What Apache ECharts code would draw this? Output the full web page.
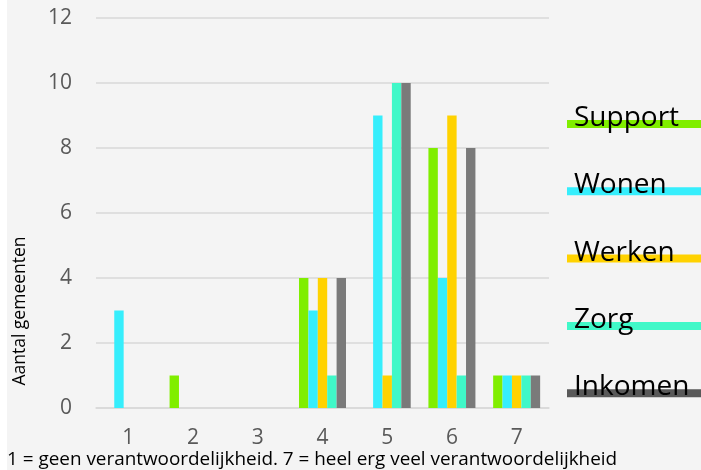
<!DOCTYPE html>
<html>
<head>
<meta charset="utf-8">
<script src="https://cdn.jsdelivr.net/npm/echarts@6/dist/echarts.min.js"></script>
<style>
html,body{margin:0;padding:0;background:#ffffff;}
#chart{position:absolute;left:7px;top:0;width:694px;height:470px;background:#f4f4f4;}
</style>
</head>
<body>
<div id="chart"></div>
<script>
const categories = ['1','2','3','4','5','6','7'];
const seriesNames = ['Support','Wonen','Werken','Zorg','Inkomen'];
const support = [0,1,0,4,0,8,1];
const wonen   = [3,0,0,3,9,4,1];
const werken  = [0,0,0,4,1,9,1];
const zorg    = [0,0,0,1,10,1,1];
const inkomen = [0,0,0,4,10,8,1];
const barColors = ['#80ee00','#36eefc','#ffd200','#40f8c8','#7a7a7a'];
const legendColors = ['#80ee00','#36eefc','#ffd200','#40f8c8','#595959'];
const yTicks = {min:0, max:12, interval:2};
const xAxisTitle = '1 = geen verantwoordelijkheid. 7 = heel erg veel verantwoordelijkheid';
const yAxisTitle = 'Aantal gemeenten';

const values = [support, wonen, werken, zorg, inkomen];
const font = "'Open Sans', sans-serif";
const chart = echarts.init(document.getElementById('chart'));
chart.setOption({
  animation:false,
  backgroundColor:'#f4f4f4',
  textStyle:{fontFamily:font},
  title:{
    text:xAxisTitle, left:0, top:450, padding:0,
    textStyle:{fontFamily:font, fontSize:18.9, fontWeight:'normal', color:'#000', lineHeight:20}
  },
  graphic:[{
    type:'text', x:13, y:311, rotation:Math.PI/2,
    style:{text:yAxisTitle, font:"17.5px 'Open Sans'", fill:'#000', textAlign:'center', textVerticalAlign:'middle'}
  }],
  grid:{left:89, right:152, top:18, bottom:62, containLabel:false},
  legend:[
    {
      orient:'vertical', left:560, top:120, padding:0, itemWidth:134, itemHeight:8, itemGap:59.3,
      icon:'rect', selectedMode:false, formatter:function(){return '';},
      textStyle:{fontSize:1, lineHeight:8},
      data:seriesNames.map((n,i)=>({name:n, itemStyle:{color:legendColors[i]}}))
    },
    {
      orient:'vertical', left:562, top:100, padding:0, itemWidth:0, itemHeight:0, itemGap:31.3,
      icon:'none', selectedMode:false,
      textStyle:{fontFamily:font, fontSize:28, color:'#000', lineHeight:36},
      data:seriesNames
    }
  ],
  xAxis:{
    type:'category', data:categories,
    axisLine:{show:true, lineStyle:{color:'#d9d9d9', width:1.5}},
    axisTick:{show:false},
    axisLabel:{fontSize:21, color:'#595959', margin:20, fontFamily:font}
  },
  yAxis:{
    type:'value', min:yTicks.min, max:yTicks.max, interval:yTicks.interval,
    axisLine:{show:false}, axisTick:{show:false},
    axisLabel:{fontSize:21, color:'#595959', margin:24, fontFamily:font},
    splitLine:{lineStyle:{color:'#d9d9d9', width:1.5}}
  },
  series:seriesNames.map((n,i)=>({
    name:n, type:'bar', data:values[i], barWidth:9.4, barGap:'0%',
    itemStyle:{color:barColors[i]}
  }))
});
</script>
</body>
</html>
